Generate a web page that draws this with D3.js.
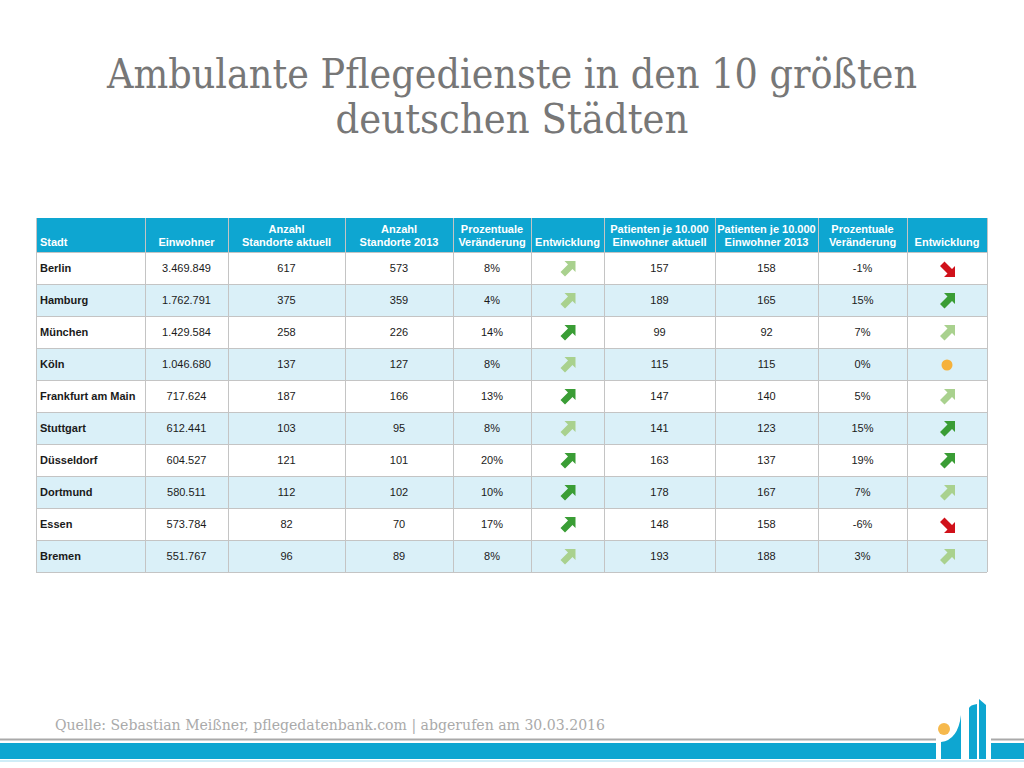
<!DOCTYPE html>
<html>
<head>
<meta charset="utf-8">
<script src="https://cdn.jsdelivr.net/npm/d3@7"></script>
<style>
  html, body { margin: 0; padding: 0; background: #ffffff; }
  svg { display: block; }
</style>
</head>
<body>
<svg id="chart" width="1024" height="768"></svg>
<script>
// ---------- DATA ----------
const titleLines = ["Ambulante Pflegedienste in den 10 größten", "deutschen Städten"];
const headers = [
  ["Stadt"],
  ["Einwohner"],
  ["Anzahl", "Standorte aktuell"],
  ["Anzahl", "Standorte 2013"],
  ["Prozentuale", "Veränderung"],
  ["Entwicklung"],
  ["Patienten je 10.000", "Einwohner aktuell"],
  ["Patienten je 10.000", "Einwohner 2013"],
  ["Prozentuale", "Veränderung"],
  ["Entwicklung"]
];
const cities = ["Berlin", "Hamburg", "München", "Köln", "Frankfurt am Main", "Stuttgart", "Düsseldorf", "Dortmund", "Essen", "Bremen"];
const einwohner = ["3.469.849", "1.762.791", "1.429.584", "1.046.680", "717.624", "612.441", "604.527", "580.511", "573.784", "551.767"];
const standorteAktuell = [617, 375, 258, 137, 187, 103, 121, 112, 82, 96];
const standorte2013 = [573, 359, 226, 127, 166, 95, 101, 102, 70, 89];
const veraenderungStandorte = ["8%", "4%", "14%", "8%", "13%", "8%", "20%", "10%", "17%", "8%"];
const trendStandorte = ["upLight", "upLight", "upDark", "upLight", "upDark", "upLight", "upDark", "upDark", "upDark", "upLight"];
const patientenAktuell = [157, 189, 99, 115, 147, 141, 163, 178, 148, 193];
const patienten2013 = [158, 165, 92, 115, 140, 123, 137, 167, 158, 188];
const veraenderungPatienten = ["-1%", "15%", "7%", "0%", "5%", "15%", "19%", "7%", "-6%", "3%"];
const trendPatienten = ["down", "upDark", "upLight", "flat", "upLight", "upDark", "upDark", "upLight", "down", "upLight"];
const sourceText = "Quelle: Sebastian Meißner, pflegedatenbank.com | abgerufen am 30.03.2016";

// ---------- LAYOUT ----------
const svg = d3.select("#chart");
const colEdges = [36, 145, 228, 345, 453, 531, 604, 715, 818, 907, 987];
const tableTop = 218, headerH = 34, rowH = 32;
const headerBlue = "#0ea6d1";
const altRow = "#daf0f8";
const gridCol = "#c4c4c4";

// title
const titleFont = "'Roboto Slab', 'DejaVu Serif', serif";
const titleBase = [88, 133];
titleLines.forEach((t, i) => {
  const txt = svg.append("text")
    .attr("x", 512).attr("y", titleBase[i])
    .attr("text-anchor", "middle")
    .attr("font-family", titleFont)
    .attr("font-size", 41)
    .attr("fill", "#777777")
    .text(t);
  const target = i === 0 ? 810 : 353;
  const w = txt.node().getComputedTextLength();
  if (w > target) txt.attr("textLength", target).attr("lengthAdjust", "spacingAndGlyphs");
});

// scales
const nCols = headers.length;
const rowScale = d3.scaleBand()
  .domain(d3.range(cities.length))
  .range([tableTop + headerH, tableTop + headerH + rowH * cities.length]);

const colLeft = i => colEdges[i];
const colMid = i => (colEdges[i] + colEdges[i + 1]) / 2;

// header background
svg.append("rect")
  .attr("x", colEdges[0]).attr("y", tableTop)
  .attr("width", colEdges[nCols] - colEdges[0]).attr("height", headerH)
  .attr("fill", headerBlue);

// row backgrounds
svg.append("g").selectAll("rect")
  .data(cities)
  .join("rect")
  .attr("x", colEdges[0])
  .attr("y", (d, i) => rowScale(i))
  .attr("width", colEdges[nCols] - colEdges[0])
  .attr("height", rowScale.bandwidth())
  .attr("fill", (d, i) => i % 2 === 1 ? altRow : "#ffffff");

// grid lines
const grid = svg.append("g").attr("stroke", gridCol).attr("stroke-width", 1).attr("shape-rendering", "crispEdges");
const tableBottom = rowScale.range()[1];
colEdges.forEach(x => {
  grid.append("line").attr("x1", x + 0.5).attr("x2", x + 0.5).attr("y1", tableTop).attr("y2", tableBottom);
});
d3.range(cities.length + 1).forEach(i => {
  const y = i === cities.length ? tableBottom : rowScale(i);
  grid.append("line").attr("x1", colEdges[0]).attr("x2", colEdges[nCols]).attr("y1", y + 0.5).attr("y2", y + 0.5);
});

// header text
const tableFont = "'Liberation Sans', Arial, Helvetica, sans-serif";
const hdr = svg.append("g").attr("font-family", tableFont).attr("font-size", 11).attr("font-weight", "bold").attr("fill", "#ffffff");
headers.forEach((lines, c) => {
  lines.forEach((line, j) => {
    const y = tableTop + headerH - 6 - (lines.length - 1 - j) * 13;
    hdr.append("text")
      .attr("x", c === 0 ? colLeft(c) + 4 : colMid(c))
      .attr("y", y)
      .attr("text-anchor", c === 0 ? "start" : "middle")
      .text(line);
  });
});

// body cells
const body = svg.append("g").attr("font-family", tableFont).attr("font-size", 11).attr("fill", "#1a1a1a");
const textCols = [
  { col: 1, values: einwohner },
  { col: 2, values: standorteAktuell },
  { col: 3, values: standorte2013 },
  { col: 4, values: veraenderungStandorte },
  { col: 6, values: patientenAktuell },
  { col: 7, values: patienten2013 },
  { col: 8, values: veraenderungPatienten }
];
body.selectAll("text.city")
  .data(cities)
  .join("text")
  .attr("class", "city")
  .attr("x", colLeft(0) + 4)
  .attr("y", (d, i) => rowScale(i) + rowScale.bandwidth() / 2 + 4)
  .attr("font-weight", "bold")
  .text(d => d);
textCols.forEach(tc => {
  body.append("g").selectAll("text")
    .data(tc.values)
    .join("text")
    .attr("x", colMid(tc.col))
    .attr("y", (d, i) => rowScale(i) + rowScale.bandwidth() / 2 + 4)
    .attr("text-anchor", "middle")
    .text(d => d);
});

// trend icons
const upPts = [[8, -8], [8, 3], [5, 0], [-2.5, 7.5], [-7, 3], [0.5, -4.5], [-3, -8]];
const downPts = upPts.map(p => [p[0], -p[1]]);
const iconColor = { upLight: "#a9d18e", upDark: "#3a9d35", down: "#d0111a", flat: "#f5b13b" };
function drawIcons(col, trends) {
  const g = svg.append("g");
  trends.forEach((t, i) => {
    const cx = colMid(col), cy = rowScale(i) + rowScale.bandwidth() / 2 + 1;
    if (t === "flat") {
      g.append("circle").attr("cx", cx).attr("cy", cy).attr("r", 5.5).attr("fill", iconColor.flat);
    } else {
      const pts = t === "down" ? downPts : upPts;
      g.append("path")
        .attr("d", d3.line()(pts.map(p => [cx + p[0], cy + p[1]])) + "Z")
        .attr("fill", iconColor[t]);
    }
  });
}
drawIcons(5, trendStandorte);
drawIcons(9, trendPatienten);

// footer source
const src = svg.append("text")
  .attr("x", 55).attr("y", 730)
  .attr("font-family", titleFont)
  .attr("font-size", 15)
  .attr("fill", "#aaaaaa")
  .text(sourceText);
if (src.node().getComputedTextLength() > 550) src.attr("textLength", 550).attr("lengthAdjust", "spacingAndGlyphs");

// footer bars
const foot = svg.append("g");
[[0, 936], [991, 1024]].forEach(([a, b]) => {
  foot.append("rect").attr("x", a).attr("y", 738.5).attr("width", b - a).attr("height", 2).attr("fill", "#a9a9a9");
  foot.append("rect").attr("x", a).attr("y", 743).attr("width", b - a).attr("height", 16).attr("fill", headerBlue);
});
foot.append("rect").attr("x", 0).attr("y", 760.5).attr("width", 1024).attr("height", 1).attr("fill", "#9fdcef");
// logo
foot.append("circle").attr("cx", 944).attr("cy", 729).attr("r", 6).attr("fill", "#f6b94d");
foot.append("path").attr("d", "M941,759 L941,742 Q958,740 961,715 L961,759 Z").attr("fill", headerBlue);
foot.append("path").attr("d", "M969,759 L969,708 Q970,705 977,704 L977,759 Z").attr("fill", headerBlue);
foot.append("path").attr("d", "M979,759 L979,699 L986,705 L986,759 Z").attr("fill", headerBlue);
</script>
</body>
</html>
